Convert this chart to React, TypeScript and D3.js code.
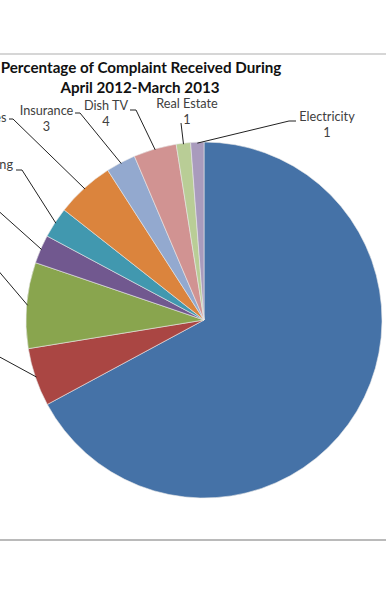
import React from "react";
import * as d3 from "d3";

const categories = [
  "Telecom",
  "Consumer Durables",
  "Others",
  "Courier",
  "Banking",
  "Services",
  "Insurance",
  "Dish TV",
  "Real Estate",
  "Electricity",
];
const shares = [67.2, 5.3, 7.8, 2.6, 2.8, 5.3, 2.7, 3.9, 1.3, 1.2];
const labelValues = [67, 5, 8, 3, 3, 5, 3, 4, 1, 1];
const colors = [
  "#4572A7",
  "#AA4643",
  "#89A54E",
  "#71588F",
  "#4198AF",
  "#DB843D",
  "#93A9CF",
  "#D19392",
  "#B9CD96",
  "#A99BBD",
];
const titleLines = ["Percentage of Complaint Received During", "April 2012-March 2013"];

// label placement (labels outside the visible window are not drawn; their leaders are)
const labelLayout: { x: number; y: number; anchor: string; show: boolean; leader: [number, number][] }[] = [
  { x: 0, y: 0, anchor: "middle", show: false, leader: [] },
  { x: -12, y: 352, anchor: "end", show: false, leader: [[-10, 355], [-4, 355]] },
  { x: -12, y: 265, anchor: "end", show: false, leader: [[-10, 268], [-4, 268]] },
  { x: -12, y: 205, anchor: "end", show: false, leader: [[-12, 207], [-6, 207]] },
  { x: 13, y: 169, anchor: "end", show: true, leader: [[16, 170], [22, 170]] },
  { x: 6.5, y: 122, anchor: "end", show: true, leader: [[9, 119], [13, 119]] },
  { x: 46.5, y: 115, anchor: "middle", show: true, leader: [[75, 113], [80, 113]] },
  { x: 106, y: 110, anchor: "middle", show: true, leader: [[130, 110], [136, 110]] },
  { x: 187, y: 108, anchor: "middle", show: true, leader: [[181, 123]] },
  { x: 327, y: 121, anchor: "middle", show: true, leader: [[296, 121], [289, 121]] },
];

const W = 386;
const H = 594;
const CX = 204;
const CY = 320;
const R = 178;

export default function App() {
  const pie = d3
    .pie<number>()
    .sort(null)
    .value((d) => d)
    .startAngle(0)
    .endAngle(2 * Math.PI);
  const arcs = pie(shares);
  const arc = d3.arc<d3.PieArcDatum<number>>().innerRadius(0).outerRadius(R);
  const edgeArc = d3.arc<d3.PieArcDatum<number>>().innerRadius(R - 1).outerRadius(R - 1);
  const line = d3.line();

  return (
    <svg
      width={W}
      height={H}
      style={{ position: "absolute", left: 0, top: 0, background: "#fff" }}
      fontFamily="Lato, 'Open Sans', sans-serif"
    >
      <line x1={0} x2={W} y1={54} y2={54} stroke="#c8c8c8" strokeWidth={1.5} />
      <line x1={0} x2={W} y1={540} y2={540} stroke="#a3a3a3" strokeWidth={1.5} />
      <text x={141} y={73} textAnchor="middle" fontWeight="bold" fontSize={15.2} fill="#111">
        {titleLines[0]}
      </text>
      <text x={140} y={93} textAnchor="middle" fontWeight="bold" fontSize={15.2} fill="#111">
        {titleLines[1]}
      </text>
      <g transform={`translate(${CX},${CY})`}>
        {arcs.map((a, i) => (
          <path key={i} d={arc(a) || ""} fill={colors[i]} stroke="#e8e8e8" strokeWidth={0.6} />
        ))}
      </g>
      {arcs.map((a, i) => {
        const L = labelLayout[i];
        if (L.leader.length === 0) return null;
        const c = edgeArc.centroid(a);
        const pts: [number, number][] = [...L.leader, [CX + c[0], CY + c[1]]];
        return <path key={"l" + i} d={line(pts) || ""} fill="none" stroke="#222" strokeWidth={1} />;
      })}
      {labelLayout.map((L, i) =>
        L.show ? (
          <g key={"t" + i} fontSize={12.7} fill="#404040">
            <text x={L.x} y={L.y} textAnchor={L.anchor}>
              {categories[i]}
            </text>
            {L.anchor === "middle" ? (
              <text x={L.x} y={L.y + 16} textAnchor="middle">
                {labelValues[i]}
              </text>
            ) : null}
          </g>
        ) : null
      )}
    </svg>
  );
}
